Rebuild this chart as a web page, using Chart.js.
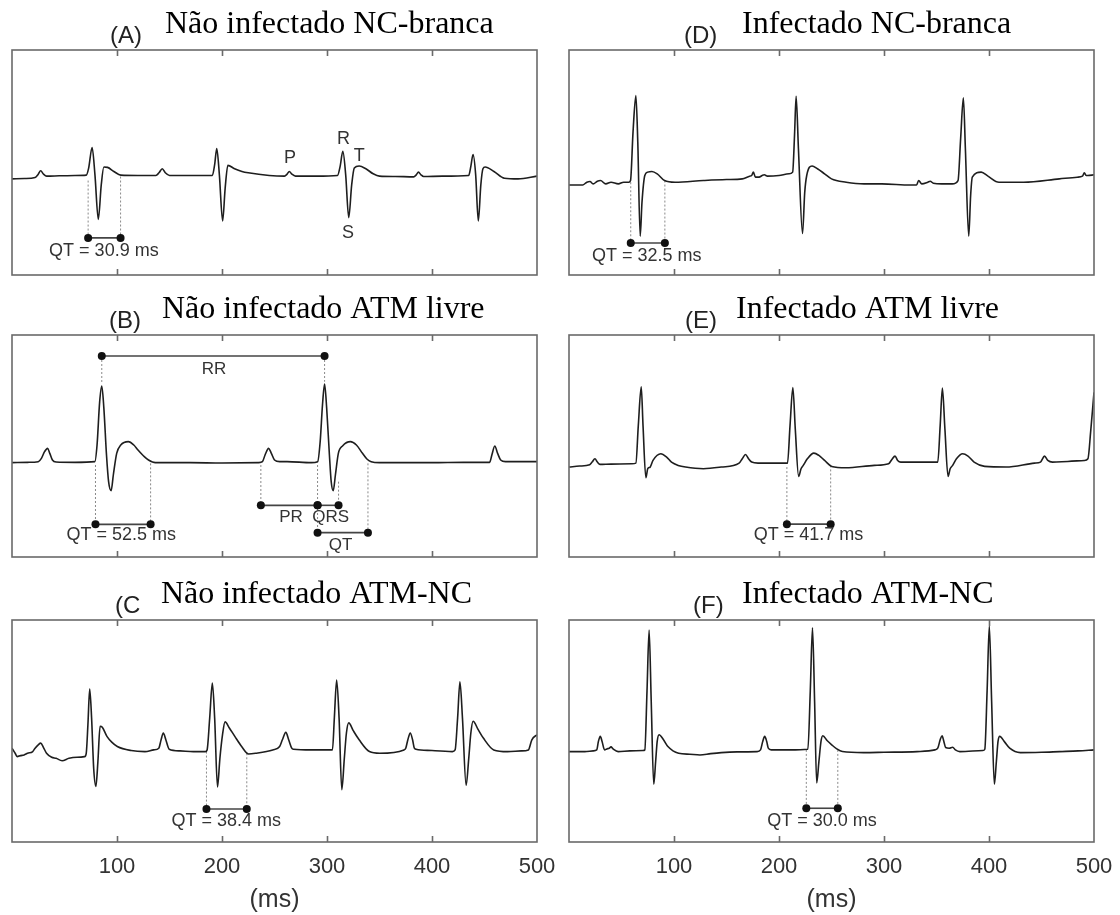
<!DOCTYPE html>
<html>
<head>
<meta charset="utf-8">
<script src="https://cdn.jsdelivr.net/npm/chart.js@4.4.1/dist/chart.umd.min.js"></script>
<style>
  html, body { margin: 0; padding: 0; background: #fff; }
  #fig { position: relative; width: 1120px; height: 915px; overflow: hidden; }
  #fig canvas { position: absolute; }
</style>
</head>
<body>
<div id="fig"></div>
<script>
// ECG traces: [time in ms, amplitude in arbitrary units, baseline ~ 0]
var traceA = [[0,-0.02],[12,-0.01],[22,0.02],[25,0.12],[27.3,0.22],[30,0.12],[33,0.06],[45,0.07],[60,0.08],[70.7,0.09],[73,0.3],[76.3,0.91],[79,0.1],[82.2,-1.22],[85,-0.2],[87.5,0.33],[91,0.32],[97,0.2],[103.6,0.09],[120,0.08],[137,0.08],[140,0.16],[143.1,0.28],[146,0.16],[150,0.08],[170,0.08],[190.8,0.08],[193,0.4],[195,0.88],[197.5,0.1],[200.6,-1.27],[203,-0.3],[205.6,0.38],[212,0.28],[219,0.2],[225,0.16],[245,0.08],[259.5,0.06],[262,0.12],[264.1,0.2],[266.5,0.12],[270,0.06],[290,0.06],[310,0.08],[312.5,0.35],[315.1,0.8],[317.8,0.1],[320.7,-1.17],[323.5,-0.2],[326,0.3],[330.6,0.36],[337,0.28],[344,0.13],[350,0.06],[365,0.05],[382.5,0.04],[385,0.1],[387.1,0.18],[389.5,0.1],[392,0.05],[410,0.06],[434.9,0.08],[437,0.35],[439.1,0.7],[441.6,0.1],[444.1,-1.27],[446.5,-0.2],[448.5,0.28],[450.6,0.33],[459,0.2],[469,0],[482,-0.02],[500,0.06]];

var traceB = [[0,-0.03],[15,-0.02],[25,0],[28,0.1],[31,0.3],[33.9,0.4],[36,0.25],[38.5,0.05],[42,-0.01],[60,-0.02],[78.9,0],[81,0.5],[83.5,1.8],[85.5,2.27],[87.5,1.6],[90,0.2],[92,-0.6],[94.4,-0.87],[96.5,-0.4],[99.7,0.25],[103.6,0.5],[110.8,0.6],[116,0.5],[120,0.35],[126,0.15],[130,0.05],[136.5,-0.03],[170,-0.03],[200,-0.04],[235,-0.03],[238.5,0],[241,0.2],[244.4,0.4],[247,0.25],[250,0.05],[255,0],[262,0],[285,-0.03],[291.1,0],[293.5,0.6],[295.7,1.7],[297.7,2.33],[299.7,1.6],[302.3,0.2],[304,-0.6],[305.9,-0.87],[308,-0.4],[310.8,0.25],[315,0.48],[322.3,0.6],[328,0.5],[333.8,0.25],[338,0.08],[342.1,0],[350,-0.03],[400,-0.03],[430,-0.02],[454.9,-0.02],[457,0.2],[459.8,0.47],[462.5,0.25],[465.4,0.05],[470,0],[500,0]];

var traceC = [[0,0.1],[3,-0.05],[4.9,-0.15],[8,-0.12],[11.5,-0.1],[14.8,-0.05],[19.7,0],[22,0.1],[25,0.2],[27.3,0.25],[30,0.12],[32.9,-0.05],[37.8,-0.17],[42,-0.2],[47.7,-0.27],[54.3,-0.2],[62,-0.17],[69.1,-0.15],[70.7,-0.05],[72.3,0.8],[74,1.85],[75.8,1.0],[77.8,-0.5],[79.9,-1.03],[81.8,-0.3],[83.9,0.75],[86,0.72],[90.4,0.45],[95,0.28],[100.3,0.15],[113.5,0.03],[126.6,0],[135,0.05],[139.8,0.1],[142,0.35],[144.1,0.55],[146.5,0.35],[149.7,0.07],[160,0.02],[172.7,0],[184.2,0],[185.8,0.05],[188.3,1.0],[190.8,2.03],[193,1.0],[195.7,-1.05],[198,-0.2],[200.5,0.5],[202.9,0.88],[207,0.7],[212.2,0.45],[218.7,0.15],[225.3,-0.07],[231.9,-0.05],[248.3,0.05],[254.9,0.15],[257.5,0.35],[260.8,0.57],[263.5,0.35],[266.4,0.1],[268.1,0.07],[285,0.05],[305.2,0.05],[307,1.0],[309.2,2.12],[311.5,1.0],[314.1,-1.13],[316.5,-0.2],[318.5,0.55],[320.7,0.85],[325,0.62],[330.6,0.35],[340.4,0],[350.3,-0.05],[373.3,0.05],[375,0.1],[377,0.35],[379.3,0.55],[381.5,0.35],[383.2,0.1],[384.8,0.07],[400,0.03],[419.4,0],[422,0.05],[424.4,1.0],[426.6,2.07],[429,1.0],[432.5,-1.0],[435,-0.2],[437,0.55],[439.1,0.9],[444,0.65],[448.9,0.4],[458.8,0.05],[472,0],[485,0.02],[491.8,0.05],[495.1,0.35],[500,0.5]];

var traceD = [[0,-0.08],[13,-0.08],[17,0],[20,0.02],[23,-0.05],[27,0.03],[30,0.05],[35,-0.05],[40,0],[47,-0.05],[52,0],[57,0],[58.6,0.05],[61,1.5],[63.7,2.57],[65.5,1.2],[67.8,-1.6],[69.5,-0.6],[72.2,0.2],[75,0.3],[79,0.32],[84,0.25],[91,0.05],[101,0],[128,0.05],[150,0.08],[165,0.1],[172,0.18],[174,0.2],[175.6,0.3],[177.5,0.15],[181,0.15],[184,0.2],[186,0.22],[189,0.18],[200,0.2],[209.5,0.25],[213,0.3],[214.8,1.4],[216.3,2.55],[218.5,1.0],[222.4,-1.52],[224.5,-0.3],[226.4,0.2],[231.5,0.48],[236.6,0.4],[243.4,0.25],[250,0.1],[264,0],[281,-0.05],[298,-0.05],[325,-0.08],[331,-0.08],[333,0.05],[336,-0.05],[341.7,0],[344,0.03],[347,-0.03],[355,-0.05],[365,-0.05],[370.5,0.05],[373,1.3],[375.6,2.5],[377.5,1.0],[380.7,-1.6],[382.5,-0.4],[384.1,0.15],[392.6,0.3],[399,0.18],[409.5,0],[433,0],[467,0.1],[484,0.15],[489,0.18],[490.8,0.28],[492.5,0.2],[494,0.2],[500,0.22]];

var traceE = [[0,-0.05],[10,-0.02],[19.7,0.02],[22,0.1],[24.7,0.2],[27,0.1],[29.5,0.03],[40,0.04],[60,0.05],[63.7,0.07],[66,1.2],[68.8,2.37],[70.5,1.2],[73.2,-0.37],[75,-0.1],[77.3,-0.05],[80,0.15],[87.5,0.35],[93,0.25],[97.6,0.1],[104,0],[111,-0.05],[128,-0.1],[145,-0.05],[162,0.07],[165,0.2],[168.1,0.33],[171,0.2],[174,0.1],[180,0.07],[202.7,0.07],[208.1,0.07],[210.5,1.2],[213.2,2.35],[215.5,1.1],[218.7,-0.33],[221,-0.1],[223.1,0],[227,0.2],[233.2,0.37],[238,0.3],[243.4,0.15],[250.2,-0.03],[263.7,-0.07],[290.8,0],[304.4,0.05],[307.5,0.18],[310.5,0.28],[313,0.15],[316,0.1],[330,0.1],[351.2,0.1],[353.5,1.2],[355.6,2.33],[358,1.1],[361,-0.33],[363,-0.1],[365.4,0],[369,0.2],[374.9,0.35],[380,0.28],[385.8,0.1],[395.9,-0.03],[416.3,-0.05],[443.4,0.07],[449,0.1],[452.9,0.28],[456,0.15],[460.4,0.1],[475,0.12],[490.8,0.15],[494.2,0.2],[496.9,1.05],[500,2.2]];

var traceF = [[0,0],[15,0],[23,0.02],[26.4,0.05],[28,0.3],[29.8,0.45],[31.5,0.3],[33.9,0.05],[36,0.08],[38.3,0.1],[40,0.14],[42,0.08],[46.8,0],[58,0.02],[70.5,0.03],[72.2,0.05],[74.3,1.8],[76.3,3.6],[78.3,1.5],[80.7,-0.97],[82.5,-0.3],[84,0.3],[85.8,0.5],[90,0.35],[94.2,0.15],[104.4,-0.05],[115,-0.08],[124.7,-0.1],[135,-0.06],[145,-0.03],[160,-0.01],[179,0],[182.4,0.05],[184.5,0.3],[186.4,0.45],[188.3,0.3],[189.8,0.1],[192.6,0.05],[210,0.05],[227.5,0.07],[229.8,1.8],[231.9,3.67],[233.9,1.5],[235.9,-0.93],[238,-0.3],[240,0.3],[241.7,0.47],[246,0.32],[250.2,0.2],[255,0.08],[260.4,0],[280.7,-0.03],[300,-0.02],[331.5,0],[348.5,0.05],[351.2,0.1],[353.5,0.35],[355.3,0.47],[357,0.3],[358.7,0.12],[362.1,0.1],[365.4,0.13],[368,0.05],[372.2,0],[394.2,0.03],[396,0.07],[398.2,1.8],[400.3,3.72],[402.5,1.5],[405.1,-0.97],[407,-0.3],[408.6,0.3],[410.2,0.45],[415,0.28],[419.7,0.1],[429.9,-0.03],[450,-0.02],[467.1,0],[485,0.02],[500,0.05]];

var xTicks = [100, 200, 300, 400, 500];

// measured QT intervals (onset and duration, ms) with the level of the marker bar
var qtA = { start: 72.5, ms: 30.9, y: -1.77 };
var qtB = { start: 79.5, ms: 52.5, y: -1.88 };
var qtC = { start: 185.2, ms: 38.4, y: -1.7 };
var qtD = { start: 58.8, ms: 32.5, y: -1.8 };
var qtE = { start: 207.5, ms: 41.7, y: -1.77 };
var qtF = { start: 226.0, ms: 30.0, y: -1.68 };

// extra intervals marked on panel B
var rrB = [85.5, 297.7];
var prB = [237.0, 291.0];
var qrsB = [291.0, 311.0];
var qt2B = [291.0, 339.0];

var SANS = "'Liberation Sans', Arial, Helvetica, sans-serif";
var SERIF = "'Liberation Serif', 'Times New Roman', serif";
var INK = "#1e1e1e";
var FRAME = "#6a6a6a";
var GUIDE = "#8a8a8a";
var TEXT = "#333";

var COLS = [{ x: 0, padL: 12, padR: 23 }, { x: 560, padL: 9, padR: 26 }];
var ROWS = [
  { y: 0, h: 285, padT: 50, padB: 10 },
  { y: 285, h: 285, padT: 50, padB: 13 },
  { y: 570, h: 345, padT: 50, padB: 0, axis: true }
];

function qtLabel(q) { return "QT = " + q.ms.toFixed(1) + " ms"; }
function qtEnd(q) { return q.start + q.ms; }

var panels = [
  {
    letter: "(A)", title: "Não infectado NC-branca", col: 0, row: 0,
    trace: traceA, yMin: -2.87, yMax: 3.8, letterDx: 98, titleDx: 153,
    qt: qtA, qtTop: [-0.07, 0.05],
    notes: [
      { text: qtLabel(qtA), x: 87.5, y: -2.17, size: 18 },
      { text: "P", x: 264.8, y: 0.6, size: 18 },
      { text: "R", x: 315.8, y: 1.16, size: 18 },
      { text: "T", x: 330.6, y: 0.66, size: 18 },
      { text: "S", x: 320, y: -1.64, size: 18 }
    ]
  },
  {
    letter: "(B)", title: "Não infectado ATM livre", col: 0, row: 1,
    trace: traceB, yMin: -2.86, yMax: 3.8, letterDx: 97, titleDx: 150,
    qt: qtB, qtTop: [-0.1, -0.05],
    extraBars: [
      [[rrB[0], 3.17], [rrB[1], 3.17]],
      [[prB[0], -1.31], [prB[1], -1.31]],
      [[qrsB[0], -1.31], [qrsB[1], -1.31]],
      [[qt2B[0], -2.13], [qt2B[1], -2.13]]
    ],
    extraGuides: [
      [[rrB[0], 3.17], [rrB[0], 2.35]],
      [[rrB[1], 3.17], [rrB[1], 2.4]],
      [[prB[0], -0.1], [prB[0], -1.31]],
      [[prB[1], -0.1], [prB[1], -2.13]],
      [[qrsB[1], -0.6], [qrsB[1], -1.31]],
      [[qt2B[1], -0.05], [qt2B[1], -2.13]]
    ],
    notes: [
      { text: qtLabel(qtB), x: 104, y: -2.2, size: 18 },
      { text: "RR", x: 192.4, y: 2.77, size: 17 },
      { text: "PR", x: 265.7, y: -1.67, size: 17 },
      { text: "QRS", x: 303.6, y: -1.67, size: 17 },
      { text: "QT", x: 313, y: -2.5, size: 17 }
    ]
  },
  {
    letter: "(C", title: "Não infectado ATM-NC", col: 0, row: 2,
    trace: traceC, yMin: -2.68, yMax: 3.9, letterDx: 103, titleDx: 149,
    qt: qtC, qtTop: [0, -0.05],
    notes: [{ text: qtLabel(qtC), x: 204, y: -2.05, size: 18 }]
  },
  {
    letter: "(D)", title: "Infectado NC-branca", col: 1, row: 0,
    trace: traceD, yMin: -2.75, yMax: 3.92, letterDx: 115, titleDx: 173,
    qt: qtD, qtTop: [0, 0.05],
    notes: [{ text: qtLabel(qtD), x: 74, y: -2.2, size: 18 }]
  },
  {
    letter: "(E)", title: "Infectado ATM livre", col: 1, row: 1,
    trace: traceE, yMin: -2.76, yMax: 3.93, letterDx: 116, titleDx: 167,
    qt: qtE, qtTop: [-0.05, 0],
    notes: [{ text: qtLabel(qtE), x: 228, y: -2.1, size: 18 }]
  },
  {
    letter: "(F)", title: "Infectado ATM-NC", col: 1, row: 2,
    trace: traceF, yMin: -2.68, yMax: 3.9, letterDx: 124, titleDx: 173,
    qt: qtF, qtTop: [0.05, 0.05],
    notes: [{ text: qtLabel(qtF), x: 241, y: -2.05, size: 18 }]
  }
];

function guideSet(points) {
  return {
    data: points, borderColor: GUIDE, borderWidth: 1, borderDash: [2, 2],
    pointRadius: 0, tension: 0, order: 3
  };
}

function barSet(points) {
  return {
    data: points, borderColor: "#444", borderWidth: 1.6,
    pointRadius: 4, pointBackgroundColor: "#111", pointBorderWidth: 0,
    tension: 0, order: 2
  };
}

function makePanel(p) {
  var col = COLS[p.col], row = ROWS[p.row];
  var canvas = document.createElement("canvas");
  canvas.width = 560;
  canvas.height = row.h;
  canvas.style.left = col.x + "px";
  canvas.style.top = row.y + "px";
  document.getElementById("fig").appendChild(canvas);

  var q = p.qt;
  var datasets = [{
    data: p.trace, borderColor: INK, borderWidth: 1.6, pointRadius: 0,
    cubicInterpolationMode: "monotone", tension: 0.4, order: 1
  }];
  datasets.push(guideSet([[q.start, p.qtTop[0]], [q.start, q.y]]));
  datasets.push(guideSet([[qtEnd(q), p.qtTop[1]], [qtEnd(q), q.y]]));
  datasets.push(barSet([[q.start, q.y], [qtEnd(q), q.y]]));
  (p.extraGuides || []).forEach(function (g) { datasets.push(guideSet(g)); });
  (p.extraBars || []).forEach(function (b) { datasets.push(barSet(b)); });

  // box with inward tick marks on top and bottom edges
  var frame = {
    id: "frame",
    afterDraw: function (chart) {
      var a = chart.chartArea, ctx = chart.ctx, xs = chart.scales.x;
      ctx.save();
      ctx.strokeStyle = FRAME;
      ctx.lineWidth = 1.6;
      ctx.strokeRect(a.left, a.top, a.right - a.left, a.bottom - a.top);
      ctx.beginPath();
      xTicks.forEach(function (v) {
        if (v >= 500) return;
        var px = Math.round(xs.getPixelForValue(v)) + 0.5;
        ctx.moveTo(px, a.top); ctx.lineTo(px, a.top + 6);
        ctx.moveTo(px, a.bottom); ctx.lineTo(px, a.bottom - 6);
      });
      ctx.stroke();
      ctx.restore();
    }
  };

  // panel letter and heading above the box
  var head = {
    id: "head",
    afterDraw: function (chart) {
      var a = chart.chartArea, ctx = chart.ctx;
      ctx.save();
      ctx.textBaseline = "alphabetic";
      ctx.textAlign = "left";
      ctx.fillStyle = "#222";
      ctx.font = "24px " + SANS;
      ctx.fillText(p.letter, a.left + p.letterDx, a.top - 7);
      ctx.fillStyle = "#000";
      ctx.font = "32px " + SERIF;
      ctx.fillText(p.title, a.left + p.titleDx, a.top - 17);
      ctx.restore();
    }
  };

  // interval names and values placed in data coordinates
  var notes = {
    id: "notes",
    afterDatasetsDraw: function (chart) {
      var ctx = chart.ctx, xs = chart.scales.x, ys = chart.scales.y;
      ctx.save();
      ctx.fillStyle = TEXT;
      ctx.textAlign = "center";
      ctx.textBaseline = "middle";
      p.notes.forEach(function (n) {
        ctx.font = n.size + "px " + SANS;
        ctx.fillText(n.text, xs.getPixelForValue(n.x), ys.getPixelForValue(n.y));
      });
      ctx.restore();
    }
  };

  new Chart(canvas, {
    type: "line",
    data: { datasets: datasets },
    options: {
      responsive: false,
      animation: false,
      devicePixelRatio: 1,
      events: [],
      layout: {
        autoPadding: false,
        padding: { left: col.padL, right: col.padR, top: row.padT, bottom: row.padB }
      },
      plugins: { legend: { display: false }, tooltip: { enabled: false } },
      scales: {
        x: {
          type: "linear", min: 0, max: 500,
          display: !!row.axis,
          afterBuildTicks: function (s) { s.ticks = xTicks.map(function (v) { return { value: v }; }); },
          afterFit: function (s) { s.height = row.axis ? 73 : 0; },
          grid: { display: false, drawTicks: false },
          border: { display: false },
          ticks: {
            padding: 0, color: TEXT, maxRotation: 0, autoSkip: false,
            font: { family: SANS, size: 22, lineHeight: 2.25 }
          },
          title: {
            display: true, text: "(ms)", color: TEXT,
            font: { family: SANS, size: 25 }, padding: { top: 0, bottom: 0 }
          }
        },
        y: { type: "linear", display: false, min: p.yMin, max: p.yMax }
      }
    },
    plugins: [frame, head, notes]
  });
}

panels.forEach(makePanel);
</script>
</body>
</html>
